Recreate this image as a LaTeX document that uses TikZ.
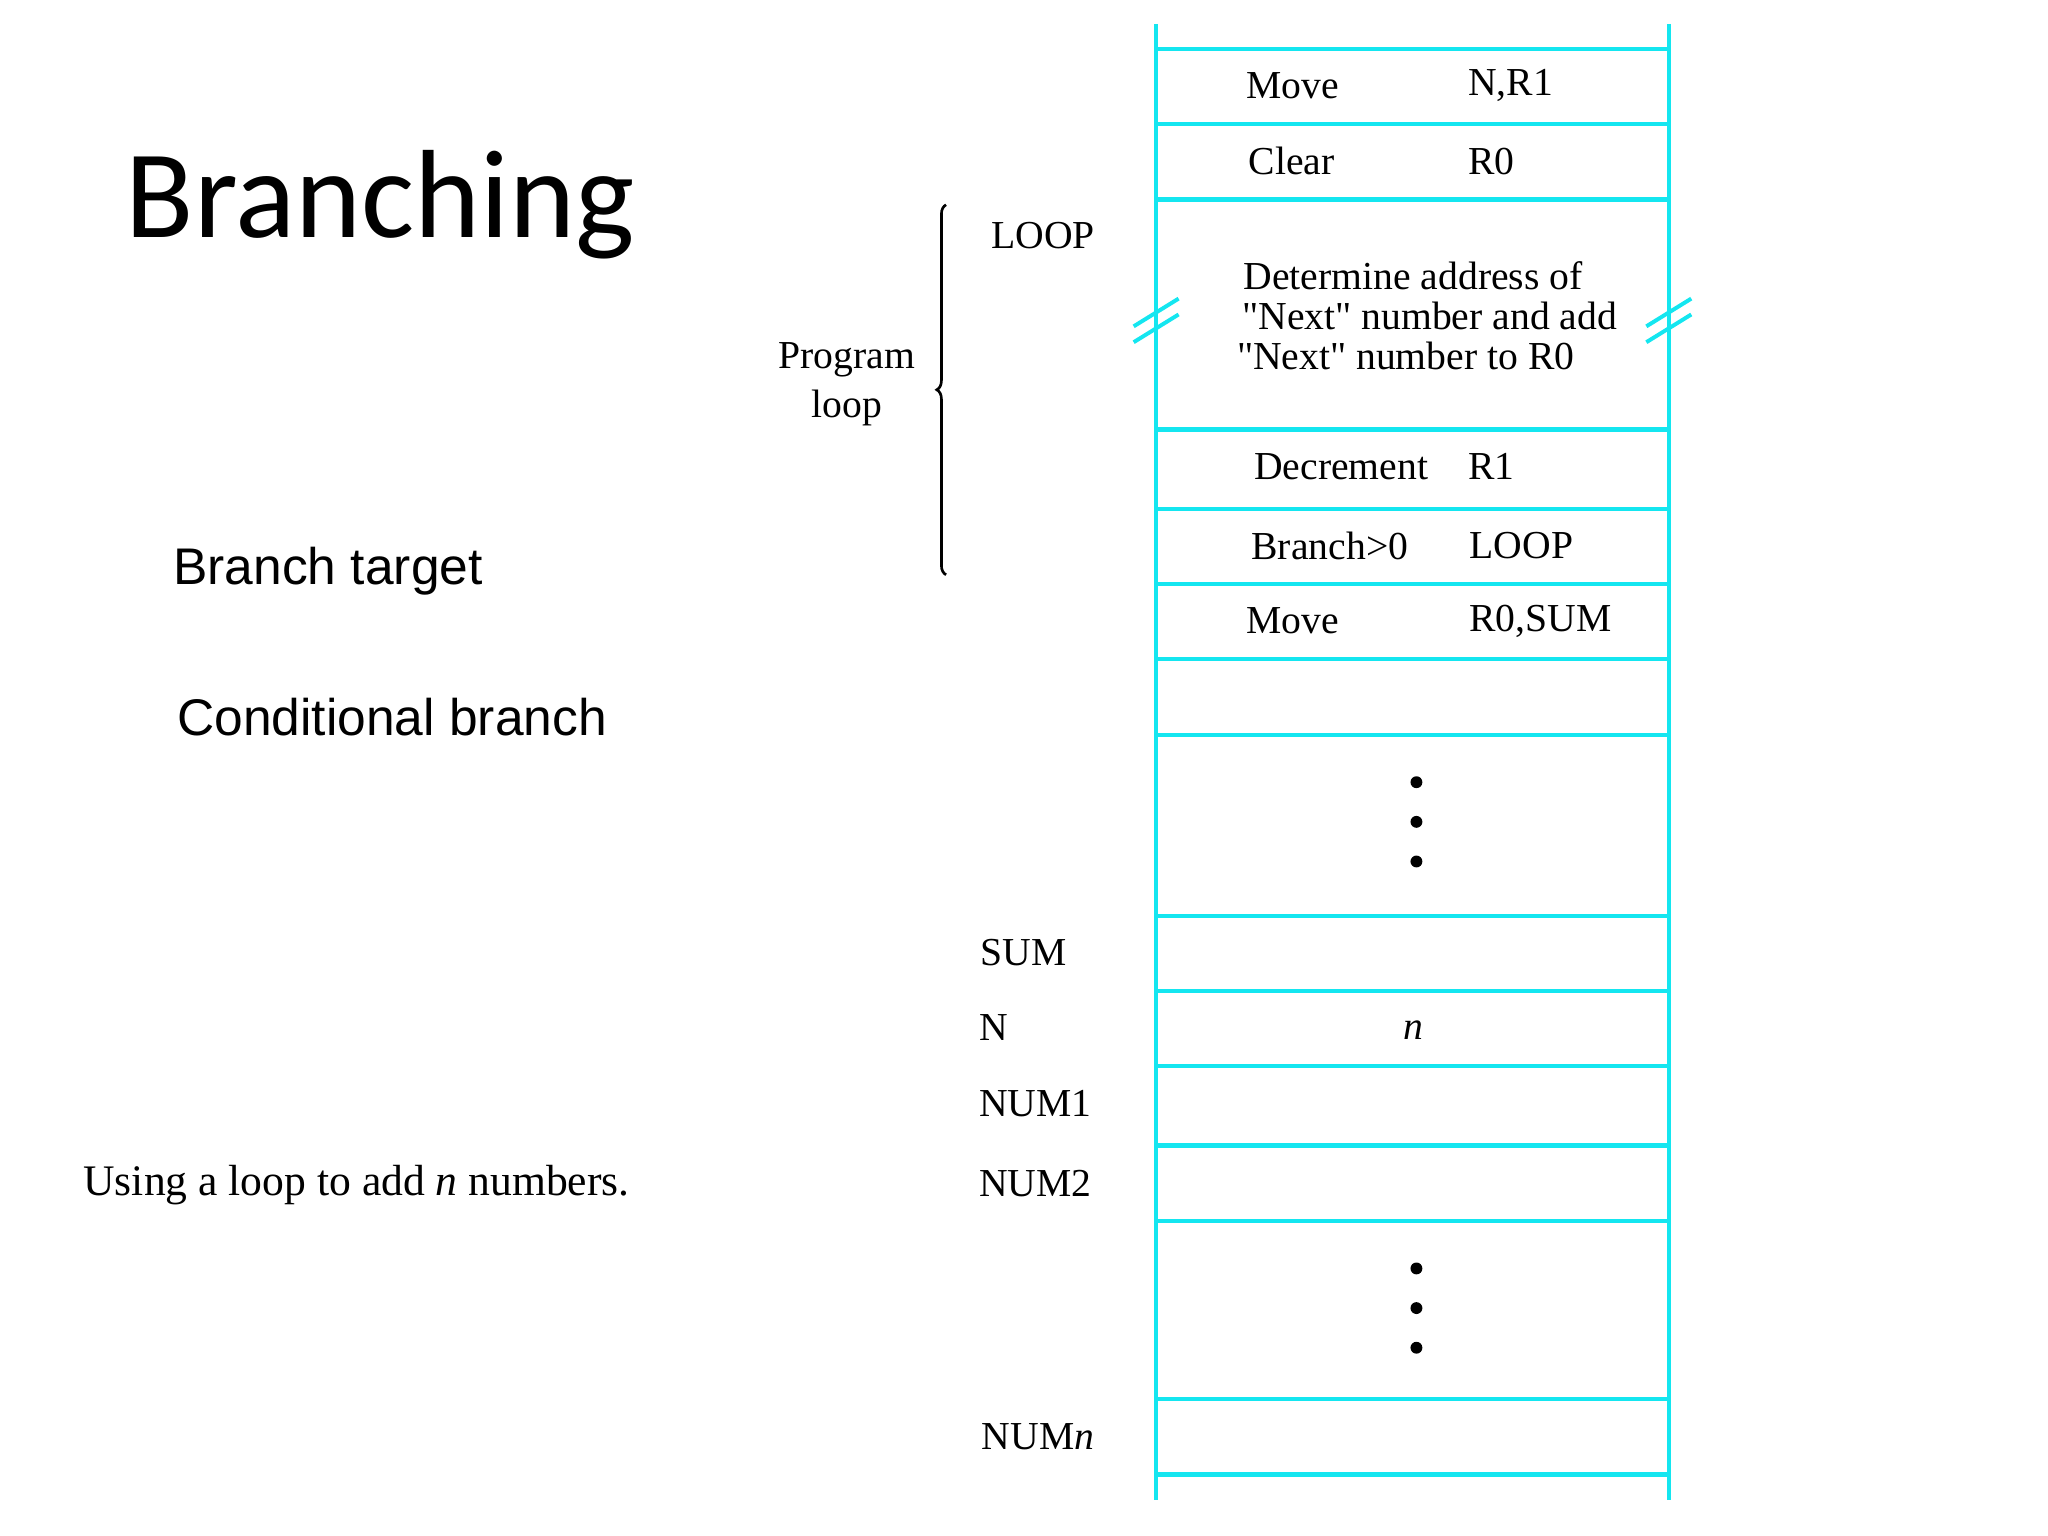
\documentclass[tikz,border=0pt]{standalone}
\usepackage{fontspec}
\setmainfont{Liberation Serif}
\newfontfamily\qf{Liberation Serif}
\newfontfamily\calib{Carlito}
\newfontfamily\arialf{Liberation Sans}
\usetikzlibrary{decorations.pathreplacing}
\definecolor{cy}{RGB}{20,230,240}
\newcommand{\dq}{{\qf\char34}}
\begin{document}
\begin{tikzpicture}[x=1pt,y=-1pt,
  rail/.style={draw=cy,line width=3.2pt},
  tx/.style={inner sep=0pt,anchor=west,font=\fontsize{30}{34}\selectfont},
  sf/.style={inner sep=0pt,anchor=west,font=\arialf\fontsize{39}{44}\selectfont},
  dot/.style={circle,fill=black,inner sep=0pt,minimum size=9pt}]
\useasboundingbox (0,0) rectangle (1550,1162);
\coordinate (lt) at (875,18); \coordinate (lb) at (875,1135);
\coordinate (rt) at (1263,18); \coordinate (rb) at (1263,1135);
\draw[rail] (lt) -- (lb); \draw[rail] (rt) -- (rb);
\foreach \y in {37,94,151,325,385,442,499,556,693,750,807,867,924,1059,1116}
  \draw[rail] (875,\y) -- (1263,\y);
\foreach \x in {875,1263}{
  \draw[draw=cy,line width=3pt] (\x-17,247) -- (\x+17,226);
  \draw[draw=cy,line width=3pt] (\x-17,259) -- (\x+17,238);}
\node[tx] (m1) at (943,65) {Move}; \node[tx] (m1b) at (1111,65) {N,R1};
\node[tx] (c1) at (945,122) {Clear}; \node[tx] (c1b) at (1111,122) {R0};
\node[inner sep=0pt,font=\fontsize{30}{30.5}\selectfont,align=left] (det) at (1080,239)
  {\hspace*{5pt}Determine address of\\\hspace*{4pt}\dq Next\dq{} number and add\\\dq Next\dq{} number to R0};
\node[tx] (d1) at (949,353) {Decrement}; \node[tx] (d1b) at (1111,353) {R1};
\node[tx] (b1) at (947,413) {Branch>0}; \node[tx] (b1b) at (1112,413) {LOOP};
\node[tx] (m2) at (943,470) {Move}; \node[tx] (m2b) at (1112,470) {R0,SUM};
\foreach \y in {592,622,652,960,990,1020} \node[dot] at (1072,\y) {};
\node[inner sep=0pt,font=\fontsize{30}{34}\selectfont\itshape] (nn) at (1070,780) {n};
\node[tx] (loop) at (750,178) {LOOP};
\node[inner sep=0pt,font=\fontsize{30}{37}\selectfont,align=center] (pl) at (641,291) {Program\\loop};
\node[tx] (sum) at (742,721) {SUM};
\node[tx] (nl) at (741,778) {N};
\node[tx] (n1) at (741,835) {NUM1};
\node[tx] (n2) at (741,896) {NUM2};
\node[tx] (nn2) at (743,1087) {NUM\textit{n}};
\coordinate (bt) at (716,155); \coordinate (bb) at (716,435);
\draw[line width=2pt,decorate,decoration={brace,amplitude=7pt}] (bb) -- (bt);
\node[inner sep=0pt,anchor=west,font=\calib\fontsize{95}{100}\selectfont] (title) at (95,155) {Branching};
\node[sf] (bt1) at (131,432) {Branch target};
\node[sf] (cb) at (134,543) {Conditional branch};
\node[tx,font=\fontsize{33}{36}\selectfont] (cap) at (63,897) {Using a loop to add \textit{n} numbers.};
\end{tikzpicture}
\end{document}
